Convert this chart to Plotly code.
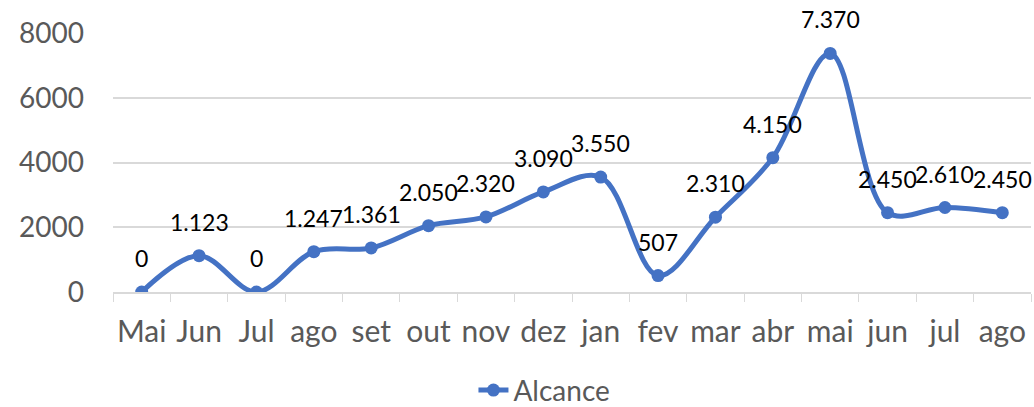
import plotly.graph_objects as go

months = ["Mai", "Jun", "Jul", "ago", "set", "out", "nov", "dez", "jan", "fev",
          "mar", "abr", "mai", "jun", "jul", "ago"]
# unique category keys (labels repeat: 'ago', etc.)
keys = [f"{i}" for i in range(len(months))]
alcance = [0, 1123, 0, 1247, 1361, 2050, 2320, 3090, 3550, 507, 2310, 4150, 7370, 2450, 2610, 2450]
yticks = [0, 2000, 4000, 6000, 8000]

def fmt(v):
    return f"{v:,}".replace(",", ".")

FONT = "Lato"
BLUE = "#4472C4"

fig = go.Figure()
fig.add_trace(go.Scatter(
    x=keys, y=alcance, mode="lines+markers", name="Alcance",
    line=dict(color=BLUE, width=5, shape="spline", smoothing=1.0),
    marker=dict(color=BLUE, size=13),
))
for k, v in zip(keys, alcance):
    fig.add_annotation(x=k, y=v, text=fmt(v), showarrow=False, yshift=34,
                       font=dict(family=FONT, size=23, color="#000000"))

fig.update_layout(
    width=1034, height=407,
    margin=dict(l=113, r=3, t=33, b=115, autoexpand=False),
    paper_bgcolor="white", plot_bgcolor="white",
    font=dict(family=FONT, color="#595959"),
    showlegend=True,
    legend=dict(orientation="h", x=0.47, xanchor="center", y=-0.38, yanchor="middle",
                font=dict(family=FONT, size=28, color="#595959")),
)
fig.update_xaxes(
    type="category", tickmode="array", tickvals=keys, ticktext=months,
    tickson="boundaries", ticks="outside", ticklen=8, tickcolor="#d9d9d9",
    showgrid=False, showline=True, linecolor="#d9d9d9", linewidth=1.5,
    tickfont=dict(family=FONT, size=30, color="#595959"), ticklabelstandoff=12,
    tickangle=0,
    range=[-0.5, len(keys) - 0.5], zeroline=False, automargin=False,
)
fig.update_yaxes(
    range=[0, 8000], tickvals=yticks, ticktext=[str(t) for t in yticks],
    showgrid=True, gridcolor="#d9d9d9", gridwidth=1.5, zeroline=False,
    tickfont=dict(family=FONT, size=28, color="#595959"), ticklabelstandoff=28,
    automargin=False,
)
fig.write_html("out.html", config={"displayModeBar": False},
               post_script="document.body.style.margin='0';document.body.style.overflow='hidden';")
